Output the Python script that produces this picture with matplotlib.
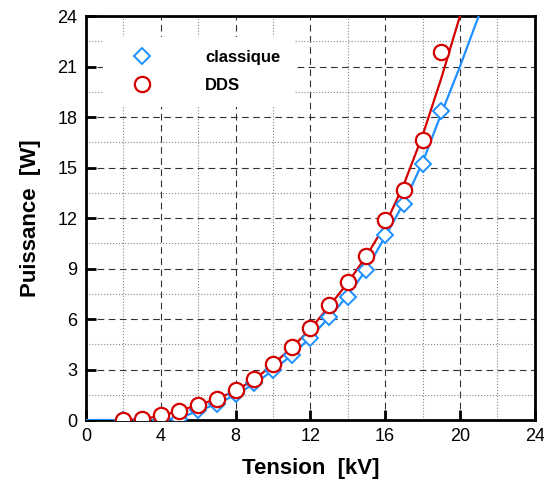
import matplotlib.pyplot as plt
from matplotlib.ticker import MultipleLocator

plt.rcParams['font.family'] = ['Liberation Sans', 'DejaVu Sans']

# measured points
tension = [2, 3, 4, 5, 6, 7, 8, 9, 10, 11, 12, 13, 14, 15, 16, 17, 18, 19]
p_classique = [0.0, 0.0, 0.0, 0.05, 0.6, 0.95, 1.55, 2.18, 2.95, 3.86, 4.9, 6.1,
               7.33, 8.9, 11.0, 12.85, 15.19, 18.36]
p_dds = [0.0, 0.06, 0.3, 0.55, 0.89, 1.23, 1.78, 2.42, 3.3, 4.36, 5.45, 6.83,
         8.22, 9.74, 11.88, 13.67, 16.64, 21.88]

# fitted curves
fit_x_classique = [0, 1, 2, 3, 4, 5, 6, 7, 8, 9, 10, 11, 12, 13, 14, 15, 16, 17, 18, 19, 20, 21]
fit_classique = [0, 0, 0, 0, 0, 0.1, 0.55, 0.95, 1.5, 2.15, 2.95, 3.85, 4.9, 6.1,
                 7.4, 8.95, 10.9, 12.9, 15.3, 18.2, 21.0, 24.0]
fit_x_dds = [2, 3, 4, 5, 6, 7, 8, 9, 10, 11, 12, 13, 14, 15, 16, 17, 18, 19, 20]
fit_dds = [0, 0.05, 0.25, 0.55, 0.9, 1.25, 1.75, 2.4, 3.3, 4.3, 5.4, 6.75, 8.15,
           9.75, 11.6, 14.0, 16.9, 20.3, 24.0]

blue = '#1E90FF'
red = '#D40000'

fig = plt.figure(figsize=(5.44, 4.82), dpi=100)
ax = fig.add_axes([0.158, 0.1286, 0.825, 0.838])

ax.plot(fit_x_classique, fit_classique, color=blue, lw=1.6, zorder=3)
ax.plot(fit_x_dds, fit_dds, color=red, lw=1.6, zorder=3)
ax.plot(tension, p_classique, 'D', ms=8.5, mfc='white', mec=blue, mew=1.4,
        ls='none', label='classique', zorder=4)
ax.plot(tension, p_dds, 'o', ms=11, mfc='white', mec=red, mew=1.6,
        ls='none', label='DDS', zorder=5)

ax.set_xlim(0, 24)
ax.set_ylim(0, 24)
ax.xaxis.set_major_locator(MultipleLocator(4))
ax.xaxis.set_minor_locator(MultipleLocator(2))
ax.yaxis.set_major_locator(MultipleLocator(3))
ax.yaxis.set_minor_locator(MultipleLocator(1.5))

ax.grid(which='major', color='#333333', ls=(0, (6, 4)), lw=0.8)
ax.grid(which='minor', color='#888888', ls=':', lw=0.8)
ax.set_axisbelow(True)

ax.tick_params(which='major', direction='in', length=7, width=2,
               labelsize=13, pad=6, top=False, right=False)
ax.tick_params(which='minor', length=0)
for s in ax.spines.values():
    s.set_linewidth(2)

ax.set_xlabel('Tension  [kV]', fontsize=16, fontweight='bold', labelpad=9)
ax.set_ylabel('Puissance  [W]', fontsize=16, fontweight='bold', labelpad=12)

legend = ax.legend(loc='upper left', bbox_to_anchor=(0.02, 0.97), frameon=True,
                   fancybox=False, edgecolor='none', framealpha=1,
                   handletextpad=2.3, handlelength=3.0, labelspacing=0.8,
                   prop={'weight': 'bold', 'size': 12}, borderpad=0.8)

fig.savefig('out.png', dpi=100)
